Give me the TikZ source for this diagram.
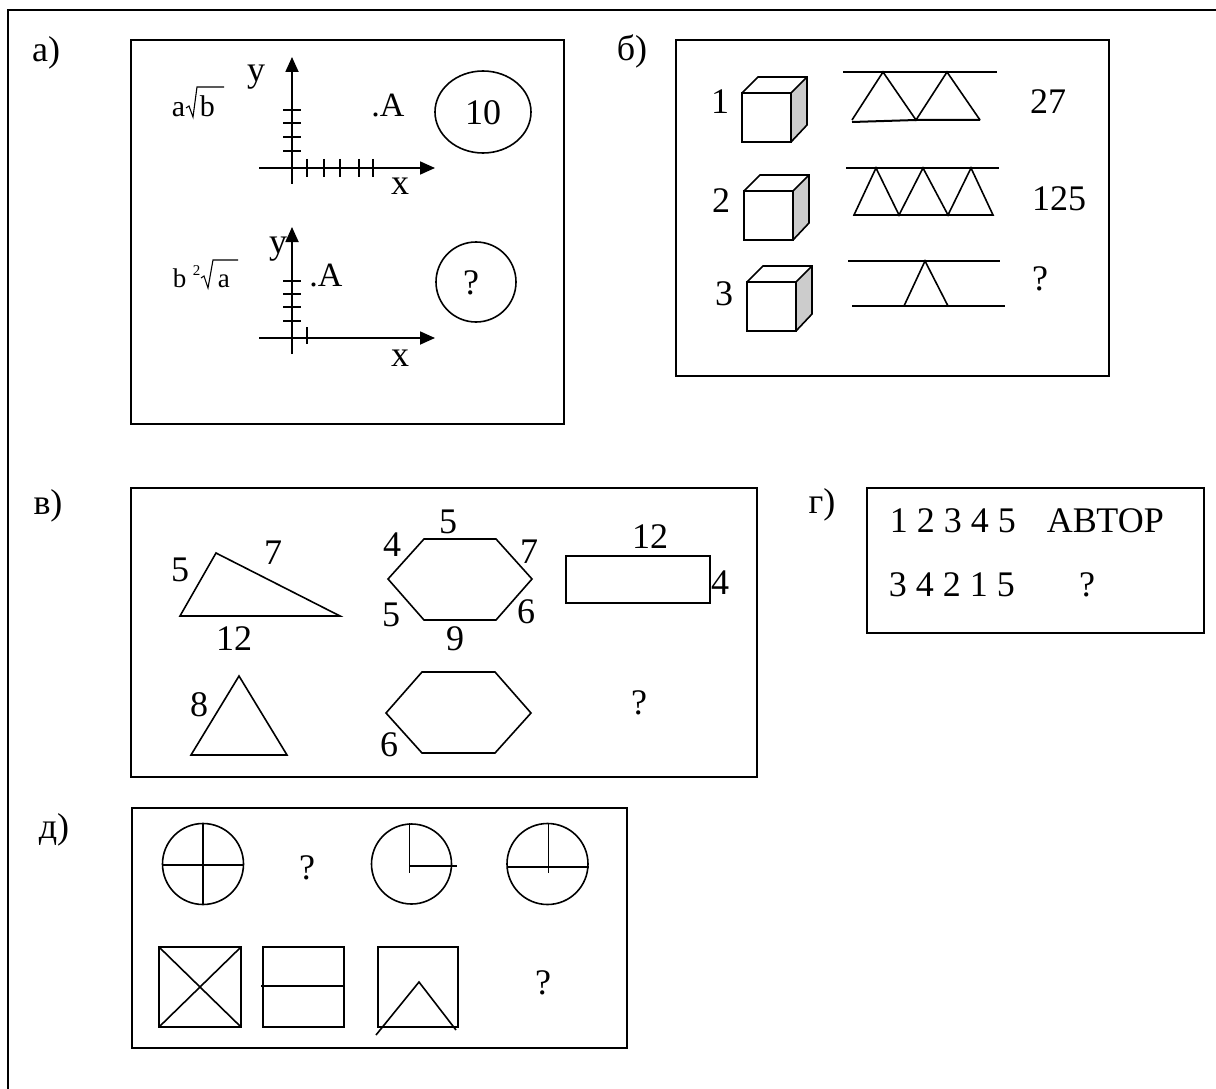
\documentclass[tikz,border=0pt]{standalone}
\usepackage{fontspec}
\setmainfont{Liberation Serif}
\usetikzlibrary{arrows.meta}
\begin{document}
\begin{tikzpicture}[x=1pt,y=-1pt, line width=1.6pt, line join=miter,
  lbl/.style={inner sep=0pt, font=\fontsize{36}{40}\selectfont},
  mid/.style={inner sep=0pt, font=\fontsize{30}{33}\selectfont},
  pta/.style={inner sep=0pt, font=\fontsize{34}{37}\selectfont},
  sml/.style={inner sep=0pt, font=\fontsize{27}{30}\selectfont},
  tiny/.style={inner sep=0pt, font=\fontsize{15}{17}\selectfont},
  box/.style={draw, line width=2pt},
  ax/.style={line width=1.8pt, -{Triangle[length=15pt,width=13pt]}},
  tk/.style={line width=1.6pt},
  rad/.style={line width=1.1pt}]
\useasboundingbox (0,0) rectangle (1216,1089);
% outer frame
\draw[line width=2.2pt] (8,1089) -- (8,10) -- (1216,10);

% ---------------- panel a
\node[lbl] (la) at (46,53) {а)};
\draw[box] (131,40) rectangle (564,424);
% upper axes
\draw[ax] (292,184) -- (292,57);
\draw[ax] (259,168) -- (435,168);
\foreach \t in {110,123,137,151} \draw[tk] (283,\t) -- (301,\t);
\foreach \t in {307,324,340,359,373} \draw[tk] (\t,159) -- (\t,177);
\node[lbl] (ya) at (256,77) {y};
\node[lbl] (xa) at (400,186) {x};
\node[pta] (Aa) at (388,106) {.A};
\node[mid, anchor=base west] (aa) at (171,117) {a};
\node[mid, anchor=base west] (ba) at (199,117) {b};
\draw[rad] (186,108) -- (189,106) -- (193,117) -- (197,87) -- (224,87);
\draw (483,112) ellipse [x radius=48pt, y radius=41pt];
\node[lbl] (ten) at (483,113) {10};
% lower axes
\draw[ax] (292,354) -- (292,227);
\draw[ax] (259,338) -- (435,338);
\foreach \t in {281,294,307,321} \draw[tk] (283,\t) -- (301,\t);
\draw[tk] (307,327) -- (307,344);
\node[lbl] (yb) at (278,249) {y};
\node[lbl] (xb) at (400,358) {x};
\node[pta] (Ab) at (326,276) {.A};
\node[sml, anchor=base west] (bb) at (172,287) {b};
\node[tiny, anchor=base west] (two) at (192,275) {2};
\node[sml, anchor=base west] (ab) at (217,287) {a};
\draw[rad] (201,278) -- (204,276) -- (208,288) -- (213,260) -- (238,260);
\draw (476,282) ellipse [x radius=40pt, y radius=40pt];
\node[lbl] (qa) at (471,283) {?};

% ---------------- panel b
\node[lbl] (lb) at (632,51) {б)};
\draw[box] (676,40) rectangle (1109,376);
\foreach \cx/\cy in {742/93,744/191,747/282} {
  \fill[black!20] (\cx+49,\cy) -- (\cx+65,\cy-16) -- (\cx+65,\cy+32) -- (\cx+49,\cy+49) -- cycle;
  \draw (\cx,\cy) rectangle (\cx+49,\cy+49);
  \draw (\cx,\cy) -- (\cx+16,\cy-16) -- (\cx+65,\cy-16) -- (\cx+65,\cy+32) -- (\cx+49,\cy+49);
  \draw (\cx+49,\cy) -- (\cx+65,\cy-16);
}
\node[lbl] (n1) at (720,102) {1};
\node[lbl] (n2) at (721,201) {2};
\node[lbl] (n3) at (724,294) {3};
\node[lbl] (r1) at (1048,102) {27};
\node[lbl] (r2) at (1059,199) {125};
\node[lbl] (r3) at (1040,279) {?};
% row 1
\draw (843,72) -- (997,72);
\draw (852,120) -- (883,72) -- (916,120) -- (947,72) -- (980,120);
\draw[line width=2pt] (852,122) -- (916,120) -- (980,120);
% row 2
\draw (846,168) -- (999,168);
\draw (854,215) -- (876,168) -- (899,215) -- (923,168) -- (948,215) -- (971,168) -- (993,215) -- cycle;
% row 3
\draw (848,261) -- (1000,261);
\draw (852,306) -- (1005,306);
\draw (904,306) -- (925,261) -- (948,306);

% ---------------- panel v
\node[lbl] (lv) at (48,506) {в)};
\draw[box] (131,488) rectangle (757,777);
\draw (180,616) -- (216,553) -- (340,616) -- cycle;
\node[lbl] (v5) at (180,570) {5};
\node[lbl] (v7) at (273,553) {7};
\node[lbl] (v12) at (234,639) {12};
\draw (424,539) -- (496,539) -- (532,579) -- (496,620) -- (424,620) -- (388,579) -- cycle;
\node[lbl] (h5) at (448,522) {5};
\node[lbl] (h4) at (392,545) {4};
\node[lbl] (h7) at (529,552) {7};
\node[lbl] (h5b) at (391,615) {5};
\node[lbl] (h6) at (526,612) {6};
\node[lbl] (h9) at (455,639) {9};
\draw (566,556) rectangle (710,603);
\node[lbl] (p12) at (650,537) {12};
\node[lbl] (p4) at (720,583) {4};
\draw (191,755) -- (239,676) -- (287,755) -- cycle;
\node[lbl] (t8) at (199,705) {8};
\draw (422,672) -- (495,672) -- (531,713) -- (495,753) -- (422,753) -- (386,713) -- cycle;
\node[lbl] (g6) at (389,745) {6};
\node[lbl] (vq) at (639,703) {?};

% ---------------- panel g
\node[lbl] (lg) at (822,505) {г)};
\draw[box] (867,488) rectangle (1204,633);
\node[lbl, anchor=west] (g1) at (889,521) {1 2 3 4 5};
\node[lbl, anchor=west] (g2) at (1046,521) {АВТОР};
\node[lbl, anchor=west] (g3) at (888,585) {3 4 2 1 5};
\node[lbl] (gq) at (1087,585) {?};

% ---------------- panel d
\node[lbl] (ld) at (54,830) {д)};
\draw[box] (132,808) rectangle (627,1048);
\draw (203,864) circle [radius=40.5pt];
\draw (163,865) -- (244,865);
\draw (203,823) -- (203,905);
\node[lbl] (dq1) at (307,868) {?};
\draw (411.5,864) circle [radius=40pt];
\draw (409.5,823) -- (409.5,873);
\draw (409,866) -- (457,866);
\draw (547.5,864) circle [radius=40.5pt];
\draw (548.5,823) -- (548.5,873);
\draw (507,867) -- (589,867);
\draw (159,947) rectangle (241,1027);
\draw (159,947) -- (241,1027);
\draw (241,947) -- (159,1027);
\draw (263,947) rectangle (344,1027);
\draw (261,986) -- (344,986);
\draw (378,947) rectangle (458,1027);
\draw (376,1035) -- (419,982) -- (456,1030);
\node[lbl] (dq2) at (543,983) {?};
\end{tikzpicture}
\end{document}
